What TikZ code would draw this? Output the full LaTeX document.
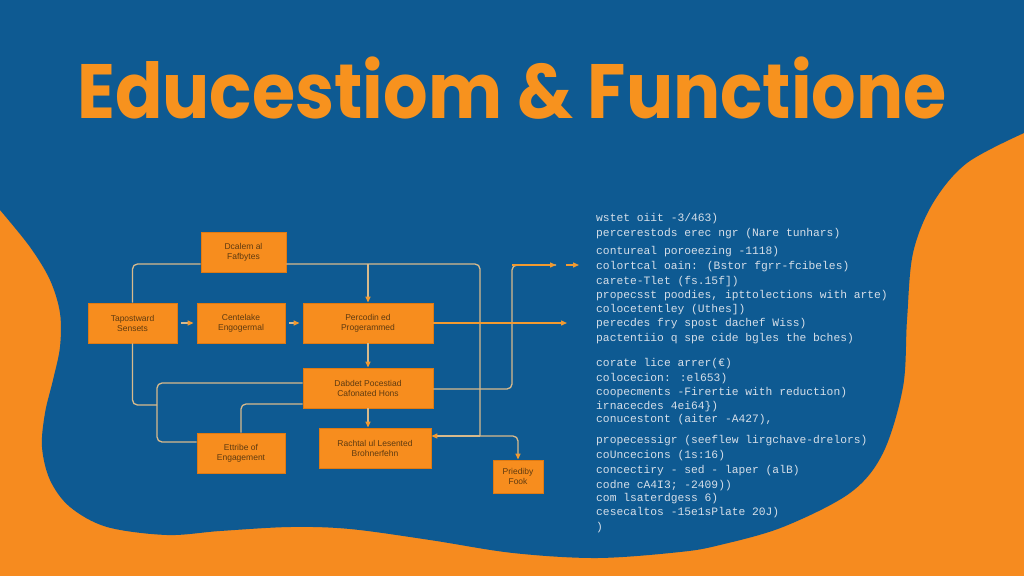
\documentclass[tikz,border=0pt]{standalone}
\usepackage{fontspec}
\setmainfont{Liberation Sans}
\newfontfamily\titlefont{Poppins}
\newfontfamily\codefont{Liberation Mono}
\usetikzlibrary{arrows.meta,calc}
\definecolor{bgblue}{HTML}{0E5A92}
\definecolor{bgorange}{HTML}{F68B1F}
\definecolor{boxorange}{HTML}{F78D1E}
\definecolor{boxedge}{HTML}{E07A12}
\definecolor{boxtext}{HTML}{5E3A10}
\definecolor{linec}{HTML}{D8BA8C}
\definecolor{arrowc}{HTML}{F29A30}
\definecolor{codec}{HTML}{D6DFE9}
\definecolor{titlec}{HTML}{F7921E}
\begin{document}
\begin{tikzpicture}[x=1pt,y=-1pt,
  flowbox/.style={draw=boxedge, line width=0.8pt, fill=boxorange, text=boxtext,
    font=\fontsize{8.5}{10}\selectfont, align=center, inner sep=0pt},
  conn/.style={draw=linec, line width=1.3pt, rounded corners=5pt},
  arr/.style={conn, -{Triangle[length=6pt,width=5pt,color=arrowc]}},
  oarr/.style={draw=arrowc, line width=1.3pt, rounded corners=5pt, -{Triangle[length=6pt,width=5pt,color=arrowc]}},
  codeline/.style={anchor=base west, text=codec, inner sep=0pt,
    font=\codefont\fontsize{11.3}{13}\selectfont}
]
\useasboundingbox (0,0) rectangle (1024,576);
\fill[bgorange] (0,0) rectangle (1024,576);
\fill[bgblue] (1024,133) -- (1024,0) -- (0,0) -- (0,210) -- plot[smooth,tension=0.55] coordinates {(0,210) (30,247) (50,280) (60,313) (60,347) (53,380) (45,413) (42,447) (50,480) (70,507) (107,527) (167,535) (220,531) (290,527) (350,529) (430,540) (513,553) (597,558) (680,552) (720,545) (783,527) (850,493) (883,453) (903,387) (907,320) (913,253) (933,203) (967,163) (1024,133)} -- cycle;

% title
\node[text=titlec, font=\titlefont\bfseries\fontsize{70}{70}\selectfont, anchor=base, inner sep=0pt] (title) at (512,118) {\scalebox{1}[1.1]{Educestiom \& Functione}};

% boxes
\node[flowbox, minimum width=85pt, minimum height=40pt] (b1) at (243.5,252) {Dcalem al\\Fafbytes};
\node[flowbox, minimum width=89pt, minimum height=40pt] (b2) at (132.5,323) {Tapostward\\Sensets};
\node[flowbox, minimum width=88pt, minimum height=40pt] (b3) at (241,323) {Centelake\\Engogermal};
\node[flowbox, minimum width=130pt, minimum height=40pt] (b4) at (368,323) {Percodin ed\\Progerammed};
\node[flowbox, minimum width=130pt, minimum height=40pt] (b5) at (368,388) {Dabdet Pocestiad\\Cafonated Hons};
\node[flowbox, minimum width=88pt, minimum height=40pt] (b6) at (241,453) {Ettribe of\\Engagement};
\node[flowbox, minimum width=112pt, minimum height=40pt] (b7) at (375,448) {Rachtal ul Lesented\\Brohnerfehn};
\node[flowbox, minimum width=50pt, minimum height=33pt] (b8) at (518,476.5) {Priediby\\Fook};

% junction coordinates
\coordinate (toprow) at (0,264);
\coordinate (r1) at (480,436);
\coordinate (jn) at (157,405);
\coordinate (out1) at (556,265);
\coordinate (sa1) at (566,265);
\coordinate (sa2) at (579,265);
\coordinate (out2) at (567,323);

% connectors
\draw[conn] (b2.north) |- ([yshift=-12pt]b1.west);
\draw[conn] ([yshift=-12pt]b1.east) -| (r1);
\draw[arr] (b4.north |- toprow) -- (b4.north);
\draw[arr] (r1) -- (b7.east |- r1);
\draw[arr] (r1) -| (b8.north);
\draw[arr, shorten <=4pt, shorten >=3pt] (b2.east) -- (b3.west);
\draw[arr, shorten <=4pt, shorten >=3pt] (b3.east) -- (b4.west);
\draw[arr] (b4.south) -- (b5.north);
\draw[arr] (b5.south) -- (b5.south |- b7.north);
\draw[conn] ([yshift=5pt]b5.west) -- (157,383) -- (157,442) -- ([yshift=11pt]b6.west);
\draw[conn] (b2.south) |- (jn);
\draw[conn] (b6.north) |- ([yshift=-16pt]b5.west);
\draw[conn] ([yshift=-1pt]b5.east) -| (512,265) -- (out1);
\draw[oarr] (512,265) -- (out1);
\draw[oarr] (sa1) -- (sa2);
\draw[oarr, rounded corners=0pt] (b4.east) -- (out2);

% code text
\node[codeline] (c1) at (596,221.5) {wstet oiit -3/463)};
\node[codeline] (c2) at (596,236.5) {percerestods erec ngr (Nare tunhars)};
\node[codeline] (c3) at (596,254.5) {contureal poroeezing -1118)};
\node[codeline] (c4) at (596,269) {colortcal oain: (Bstor fgrr-fcibeles)};
\node[codeline] (c5) at (596,284) {carete-Tlet (fs.15f])};
\node[codeline] (c6) at (596,298.5) {propecsst poodies, ipttolections with arte)};
\node[codeline] (c7) at (596,312) {colocetentley (Uthes])};
\node[codeline] (c8) at (596,326.5) {perecdes fry spost dachef Wiss)};
\node[codeline] (c9) at (596,341) {pactentiio q spe cide bgles the bches)};
\node[codeline] (c10) at (596,366.5) {corate lice arrer(€)};
\node[codeline] (c11) at (596,381.5) {colocecion: :el653)};
\node[codeline] (c12) at (596,395.5) {coopecments -Firertie with reduction)};
\node[codeline] (c13) at (596,409) {irnacecdes 4ei64\})};
\node[codeline] (c14) at (596,422) {conucestont (aiter -A427),};
\node[codeline] (c15) at (596,443.5) {propecessigr (seeflew lirgchave-drelors)};
\node[codeline] (c16) at (596,458.5) {coUncecions (1s:16)};
\node[codeline] (c17) at (596,473.5) {concectiry - sed - laper (alB)};
\node[codeline] (c18) at (596,488.5) {codne cA4I3; -2409))};
\node[codeline] (c19) at (596,501.5) {com lsaterdgess 6)};
\node[codeline] (c20) at (596,515.5) {cesecaltos -15e1sPlate 20J)};
\node[codeline] (c21) at (596,530.5) {)};
\end{tikzpicture}
\end{document}
